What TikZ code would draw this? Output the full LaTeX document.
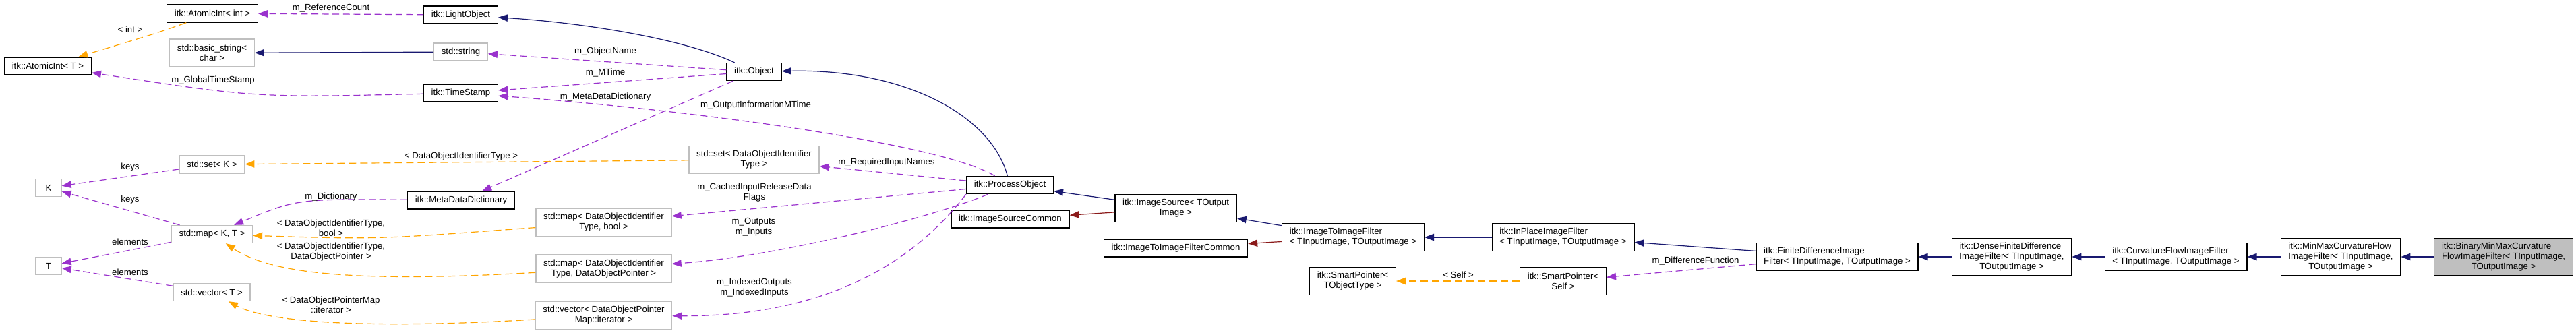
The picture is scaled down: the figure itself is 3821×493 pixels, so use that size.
\documentclass[tikz,border=0pt]{standalone}
\usepackage{fontspec}
\setmainfont{Liberation Sans}
\usetikzlibrary{arrows.meta}
\definecolor{navy}{HTML}{191970}
\definecolor{orchid}{HTML}{9A32CD}
\definecolor{amber}{HTML}{FFA500}
\definecolor{brick}{HTML}{8B1A1A}
\definecolor{greyline}{HTML}{BFBFBF}
\definecolor{current}{HTML}{BFBFBF}
\begin{document}
\begin{tikzpicture}[x=0.5pt,y=-0.5pt,>={Triangle[length=7pt,width=5.2pt]},every node/.style={font=\fontsize{6.6pt}{7.5pt}\selectfont},
cls/.style={draw,line width=0.65pt,fill=white,align=center,inner xsep=5.6pt,inner ysep=1pt,minimum height=13pt},
ext/.style={cls,draw=greyline},tall/.style={minimum height=20.5pt},taller/.style={minimum height=27.5pt},
lbl/.style={inner sep=0pt,align=center},
pub/.style={->,navy,line width=0.6pt},priv/.style={->,brick,line width=0.6pt},
mem/.style={->,orchid,line width=0.6pt,dash pattern=on 5pt off 2.8pt},
tmpl/.style={->,amber,line width=0.6pt,dash pattern=on 5.5pt off 3pt}]
\useasboundingbox (0,0) rectangle (3821,493);
\fill[white] (0,0) rectangle (3821,493);
\node[cls] (aint) at (315,20) {itk::AtomicInt< int >};
\node[cls] (lo) at (683.5,22) {itk::LightObject};
\node[ext,tall] (bstr) at (314.5,78.5) {std::basic\_string<\\char >};
\node[ext] (str) at (683.5,77) {std::string};
\node[cls] (aT) at (71,98) {itk::AtomicInt< T >};
\node[cls] (ts) at (683.5,138) {itk::TimeStamp};
\node[cls] (ob) at (1118.5,106.5) {itk::Object};
\node[ext] (setK) at (314.5,244) {std::set< K >};
\node[ext,minimum width=19pt] (K) at (72,278.5) {K};
\node[cls] (mdd) at (684,297) {itk::MetaDataDictionary};
\node[ext] (mapKT) at (314.5,347.5) {std::map< K, T >};
\node[ext,minimum width=19pt] (T) at (72,394.5) {T};
\node[ext] (vecT) at (314,433.5) {std::vector< T >};
\node[ext,tall] (setDOI) at (1118.5,237) {std::set< DataObjectIdentifier\\Type >};
\node[ext,tall] (mapB) at (895.5,330) {std::map< DataObjectIdentifier\\Type, bool >};
\node[ext,tall] (mapP) at (895.5,398.5) {std::map< DataObjectIdentifier\\Type, DataObjectPointer >};
\node[ext,tall] (vecIt) at (895.5,468) {std::vector< DataObjectPointer\\Map::iterator >};
\node[cls] (po) at (1498,274.5) {itk::ProcessObject};
\node[cls] (isc) at (1498.5,325) {itk::ImageSourceCommon};
\node[cls,tall] (is) at (1744,309) {itk::ImageSource< TOutput\\Image >};
\node[cls] (itic) at (1744,368) {itk::ImageToImageFilterCommon};
\node[cls,tall,align=left] (itif) at (2007,352) {itk::ImageToImageFilter\\< TInputImage, TOutputImage >};
\node[cls,tall,align=left] (ipf) at (2318.5,352) {itk::InPlaceImageFilter\\< TInputImage, TOutputImage >};
\node[cls,tall] (spT) at (2006.5,417) {itk::SmartPointer<\\TObjectType >};
\node[cls,tall] (spS) at (2318.5,417) {itk::SmartPointer<\\Self >};
\node[cls,tall,align=left] (fd) at (2725,381) {itk::FiniteDifferenceImage\\Filter< TInputImage, TOutputImage >};
\node[cls,taller,align=left] (dense) at (2984,381) {itk::DenseFiniteDifference\\ImageFilter< TInputImage,\\\hspace*{\fill}TOutputImage >\hspace*{\fill}};
\node[cls,tall,align=left] (cf) at (3227.5,381) {itk::CurvatureFlowImageFilter\\< TInputImage, TOutputImage >};
\node[cls,taller,align=left] (mm) at (3472,381) {itk::MinMaxCurvatureFlow\\ImageFilter< TInputImage,\\\hspace*{\fill}TOutputImage >\hspace*{\fill}};
\node[cls,taller,align=left,fill=current] (bin) at (3713.5,381) {itk::BinaryMinMaxCurvature\\FlowImageFilter< TInputImage,\\\hspace*{\fill}TOutputImage >\hspace*{\fill}};
\draw[mem] (lo) -- (aint);
\draw[tmpl] (aint) .. controls (230,50) .. (aT);
\draw[pub] (str) -- (bstr);
\draw[mem] (ts) .. controls (380,145) .. (aT);
\draw[pub] (ob) .. controls (1020,60) and (880,35) .. (lo);
\draw[mem] (ob) -- (str);
\draw[mem] (ob) -- (ts);
\draw[mem] (ob) -- (mdd);
\draw[mem] (po) .. controls (1400,215) and (1050,165) .. (ts);
\draw[pub] (po) .. controls (1470,170) and (1340,102) .. (ob);
\draw[mem] (po) -- (setDOI);
\draw[mem] (po) -- (mapB);
\draw[mem] (po) .. controls (1390,320) and (1160,380) .. (mapP);
\draw[mem] (po.south west) .. controls (1370,370) and (1250,470) .. (vecIt);
\draw[pub] (is) -- (po);
\draw[priv] (is) -- (isc);
\draw[pub] (itif) -- (is);
\draw[priv] (itif) -- (itic);
\draw[pub] (ipf) -- (itif);
\draw[pub] (fd) -- (ipf);
\draw[mem] (fd) -- (spS);
\draw[tmpl] (spS) -- (spT);
\draw[pub] (dense) -- (fd);
\draw[pub] (cf) -- (dense);
\draw[pub] (mm) -- (cf);
\draw[pub] (bin) -- (mm);
\draw[mem] (setK) -- (K);
\draw[mem] (mapKT) -- (K);
\draw[mem] (mapKT) -- (T);
\draw[mem] (vecT) -- (T);
\draw[mem] (mdd) .. controls (440,295) .. (mapKT);
\draw[tmpl] (setDOI) -- (setK);
\draw[tmpl] (mapB) .. controls (560,355) .. (mapKT);
\draw[tmpl] (mapP) .. controls (520,420) and (400,405) .. (mapKT);
\draw[tmpl] (vecIt) .. controls (520,490) and (390,475) .. (vecT);
\node[lbl] (lRef) at (491,12) {m\_ReferenceCount};
\node[lbl] (lInt) at (193,44) {< int >};
\node[lbl] (lName) at (898,76) {m\_ObjectName};
\node[lbl] (lMTime) at (898,108) {m\_MTime};
\node[lbl] (lGlobal) at (316,119) {m\_GlobalTimeStamp};
\node[lbl] (lMeta) at (898,144) {m\_MetaDataDictionary};
\node[lbl] (lOutInfo) at (1121,156) {m\_OutputInformationMTime};
\node[lbl] (lSetDOI) at (684,232) {< DataObjectIdentifierType >};
\node[lbl] (lReq) at (1315,241) {m\_RequiredInputNames};
\node[lbl] (lKeysA) at (193,248) {keys};
\node[lbl] (lKeysB) at (193,296) {keys};
\node[lbl] (lDict) at (491,292) {m\_Dictionary};
\node[lbl] (lMapB) at (491,338) {< DataObjectIdentifierType,\\bool >};
\node[lbl] (lElemA) at (193,359) {elements};
\node[lbl] (lElemB) at (193,404) {elements};
\node[lbl] (lMapP) at (491,374) {< DataObjectIdentifierType,\\DataObjectPointer >};
\node[lbl] (lVecIt) at (491,452) {< DataObjectPointerMap\\::iterator >};
\node[lbl] (lCached) at (1119,286) {m\_CachedInputReleaseData\\Flags};
\node[lbl] (lIO) at (1118,337) {m\_Outputs\\m\_Inputs};
\node[lbl] (lIdx) at (1119,427) {m\_IndexedOutputs\\m\_IndexedInputs};
\node[lbl] (lSelf) at (2163,408) {< Self >};
\node[lbl] (lDiff) at (2515,387) {m\_DifferenceFunction};
\end{tikzpicture}
\end{document}
